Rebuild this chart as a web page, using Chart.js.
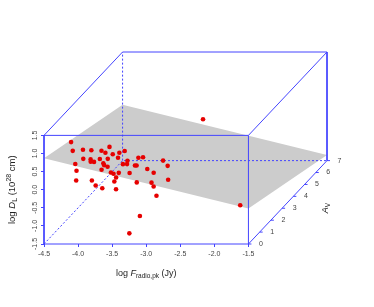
<!DOCTYPE html>
<html>
<head>
<meta charset="utf-8">
<script src="https://cdn.jsdelivr.net/npm/chart.js@4.4.1/dist/chart.umd.min.js"></script>
<style>
  html, body { margin: 0; padding: 0; background: #fff; }
</style>
</head>
<body>
<canvas id="chart" width="374" height="307"></canvas>
<script>
// one entry per source: log peak radio flux, log distance, extinction
const logF = [-4.30, -4.21, -4.37, -4.27, -4.11, -4.34, -3.97, -4.22, -4.31, -3.93,
              -3.98, -4.16, -3.89, -3.92, -4.06, -3.72, -3.59, -4.01, -3.86, -4.16,
              -3.63, -3.88, -3.82, -4.04, -3.65, -3.76, -3.87, -3.60, -3.55, -3.69,
              -3.99, -3.74, -3.49, -3.53, -3.72, -3.38, -3.54, -3.33, -3.52, -3.32,
              -3.23, -3.31, -3.05, -3.22, -3.12, -2.99, -3.08, -3.23, -2.85, -2.81,
              -1.67, -3.34, -3.33, -2.99];
const logD = [0.92, 0.81, 0.05, 0.03, 0.09, 0.28, 0.76, 0.26, -0.15, 0.54,
              0.34, -0.47, -0.18, 0.55, 0.10, 0.82, 0.78, 0.19, 0.27, -0.41,
              0.72, 0.01, 0.22, -0.75, 0.21, -0.12, -0.52, 0.07, 0.06, -0.48,
              -0.27, 0.33, 0.41, 0.64, -0.09, 0.51, -0.13, 0.34, -0.09, -0.16,
              0.65, 0.37, 0.44, -0.19, -0.20, -0.11, -0.63, -0.15, 0.33, 0.01,
              -0.53, -1.22, -1.37, 0.30];
const av = [1.2, 0.8, 2.0, 1.5, 0.5, 2.5, 1.0, 1.8, 3.0, 0.7,
            1.3, 2.2, 0.9, 1.6, 2.8, 1.1, 0.6, 2.0, 1.4, 3.3,
            0.4, 1.9, 1.0, 2.4, 0.8, 1.7, 2.6, 1.2, 0.5, 1.5,
            3.5, 2.1, 0.9, 1.3, 2.7, 0.6, 1.8, 1.0, 2.3, 1.1,
            0.7, 1.6, 0.4, 2.0, 1.2, 0.6, 1.4, 2.9, 1.0, 0.8,
            0.3, 1.5, 0.5, 5.0];

const xTicks = [-4.5, -4.0, -3.5, -3.0, -2.5, -2.0, -1.5];
const yTicks = [-1.5, -1.0, -0.5, 0.0, 0.5, 1.0, 1.5];
const avTicks = [0, 1, 2, 3, 4, 5, 6, 7];

// regression plane logD = a + b*logF + c*Av
const planeA = -1.212, planeB = -0.462, planeC = -0.118;

// oblique projection of the Av axis onto the x/y plane
const kx = 0.1647, kz = 0.329;
const xMin = -4.5, xMax = -1.5, yMin = -1.5, yMax = 1.5, avMax = 7;
function proj(x, z, a) {
    return { x: x + a * kx, y: z + a * kz };
}

const blue = '#4444ff';
const font = '"Liberation Sans", Arial, sans-serif';

var points = logF.map((f, i) => proj(f, logD[i], av[i]));

var planeZ = (x, a) => planeA + planeB * x + planeC * a;
var plane = [[xMin, 0], [xMax, 0], [xMax, avMax], [xMin, avMax], [xMin, 0]]
    .map(c => proj(c[0], planeZ(c[0], c[1]), c[1]));

var solidEdges = [
    [[xMin, yMin, 0], [xMax, yMin, 0], [xMax, yMax, 0], [xMin, yMax, 0], [xMin, yMin, 0]],
    [[xMin, yMax, 0], [xMin, yMax, avMax], [xMax, yMax, avMax], [xMax, yMax, 0]],
    [[xMax, yMax, avMax], [xMax, yMin, avMax], [xMax, yMin, 0]]
];
var dashedEdges = [
    [[xMin, yMin, 0], [xMin, yMin, avMax], [xMax, yMin, avMax]],
    [[xMin, yMin, avMax], [xMin, yMax, avMax]]
];

var datasets = [{
    data: points,
    pointRadius: 2.3,
    pointBackgroundColor: '#e60000',
    pointBorderWidth: 0,
    showLine: false
}];
solidEdges.forEach(e => datasets.push({
    data: e.map(p => proj(p[0], p[1], p[2])),
    showLine: true, pointRadius: 0, borderColor: blue, borderWidth: 1, clip: false
}));
dashedEdges.forEach(e => datasets.push({
    data: e.map(p => proj(p[0], p[1], p[2])),
    showLine: true, pointRadius: 0, borderColor: blue, borderWidth: 1,
    borderDash: [2, 2], clip: false
}));
datasets.push({
    data: plane,
    showLine: true, pointRadius: 0, borderWidth: 0,
    backgroundColor: '#cccccc', fill: 'shape'
});

function drawRich(ctx, parts, x, y, angle) {
    ctx.save();
    ctx.translate(x, y);
    ctx.rotate(angle);
    ctx.textBaseline = 'alphabetic';
    ctx.textAlign = 'left';
    var total = 0;
    parts.forEach(p => {
        ctx.font = (p.italic ? 'italic ' : '') + p.size + 'px ' + font;
        p.w = ctx.measureText(p.t).width;
        total += p.w;
    });
    var cx = -total / 2;
    parts.forEach(p => {
        ctx.font = (p.italic ? 'italic ' : '') + p.size + 'px ' + font;
        ctx.fillText(p.t, cx, p.dy || 0);
        cx += p.w;
    });
    ctx.restore();
}

const extras = {
    id: 'extras',
    afterDatasetsDraw(chart) {
        var ctx = chart.ctx;
        var xs = chart.scales.x, ys = chart.scales.y;
        ctx.save();
        // y tick labels, rotated like the reference
        ctx.fillStyle = '#444';
        ctx.font = '7px ' + font;
        ctx.textAlign = 'center';
        ctx.textBaseline = 'middle';
        yTicks.forEach(v => {
            ctx.save();
            ctx.translate(35, ys.getPixelForValue(v));
            ctx.rotate(-Math.PI / 2);
            ctx.fillText(v.toFixed(1), 0, 0);
            ctx.restore();
        });
        // Av axis ticks + labels
        ctx.strokeStyle = blue;
        ctx.lineWidth = 1;
        avTicks.forEach(a => {
            var p = proj(xMax, yMin, a);
            var px = xs.getPixelForValue(p.x), py = ys.getPixelForValue(p.y);
            ctx.beginPath();
            ctx.moveTo(px, py);
            ctx.lineTo(px + 3, py);
            ctx.stroke();
            ctx.fillText(String(a), px + 12.5, py);
        });
        ctx.restore();

        ctx.fillStyle = '#222';
        var cxTitle = (xs.getPixelForValue(xMin) + xs.getPixelForValue(xMax)) / 2;
        drawRich(ctx, [
            { t: 'log ', size: 9 },
            { t: 'F', size: 9, italic: true },
            { t: 'radio,pk', size: 6.5, dy: 2 },
            { t: ' (Jy)', size: 9 }
        ], cxTitle, 275.5, 0);
        var cyTitle = (ys.getPixelForValue(yMin) + ys.getPixelForValue(yMax)) / 2;
        drawRich(ctx, [
            { t: 'log ', size: 9.5 },
            { t: 'D', size: 9.5, italic: true },
            { t: 'L', size: 7, dy: 2 },
            { t: ' (10', size: 9.5 },
            { t: '28', size: 7, dy: -4 },
            { t: ' cm)', size: 9.5 }
        ], 14.5, cyTitle, -Math.PI / 2);
        drawRich(ctx, [
            { t: 'A', size: 9, italic: true },
            { t: 'V', size: 6.5, dy: 2 }
        ], 328, 208, -Math.PI / 2);
    }
};

new Chart(document.getElementById('chart'), {
    type: 'scatter',
    data: { datasets: datasets },
    plugins: [extras],
    options: {
        responsive: false,
        animation: false,
        devicePixelRatio: 1,
        layout: { padding: { left: 0, right: 47, top: 52, bottom: 0 } },
        plugins: { legend: { display: false }, tooltip: { enabled: false } },
        scales: {
            x: {
                type: 'linear',
                min: xMin,
                max: xMax + avMax * kx,
                afterBuildTicks: s => { s.ticks = xTicks.map(v => ({ value: v })); },
                afterFit: s => { s.height = 63; },
                border: { display: false },
                grid: { drawOnChartArea: false, drawTicks: true, tickLength: 3, color: blue },
                ticks: {
                    autoSkip: false, maxRotation: 0, padding: 3,
                    color: '#444', font: { size: 7, family: font },
                    callback: v => Number(v).toFixed(1)
                }
            },
            y: {
                type: 'linear',
                min: yMin,
                max: yMax + avMax * kz,
                afterBuildTicks: s => { s.ticks = yTicks.map(v => ({ value: v })); },
                afterFit: s => { s.width = 44; },
                border: { display: false },
                grid: { drawOnChartArea: false, drawTicks: true, tickLength: 3, color: blue },
                ticks: { color: 'rgba(0,0,0,0)', font: { size: 7, family: font } }
            }
        }
    }
});
</script>
</body>
</html>
